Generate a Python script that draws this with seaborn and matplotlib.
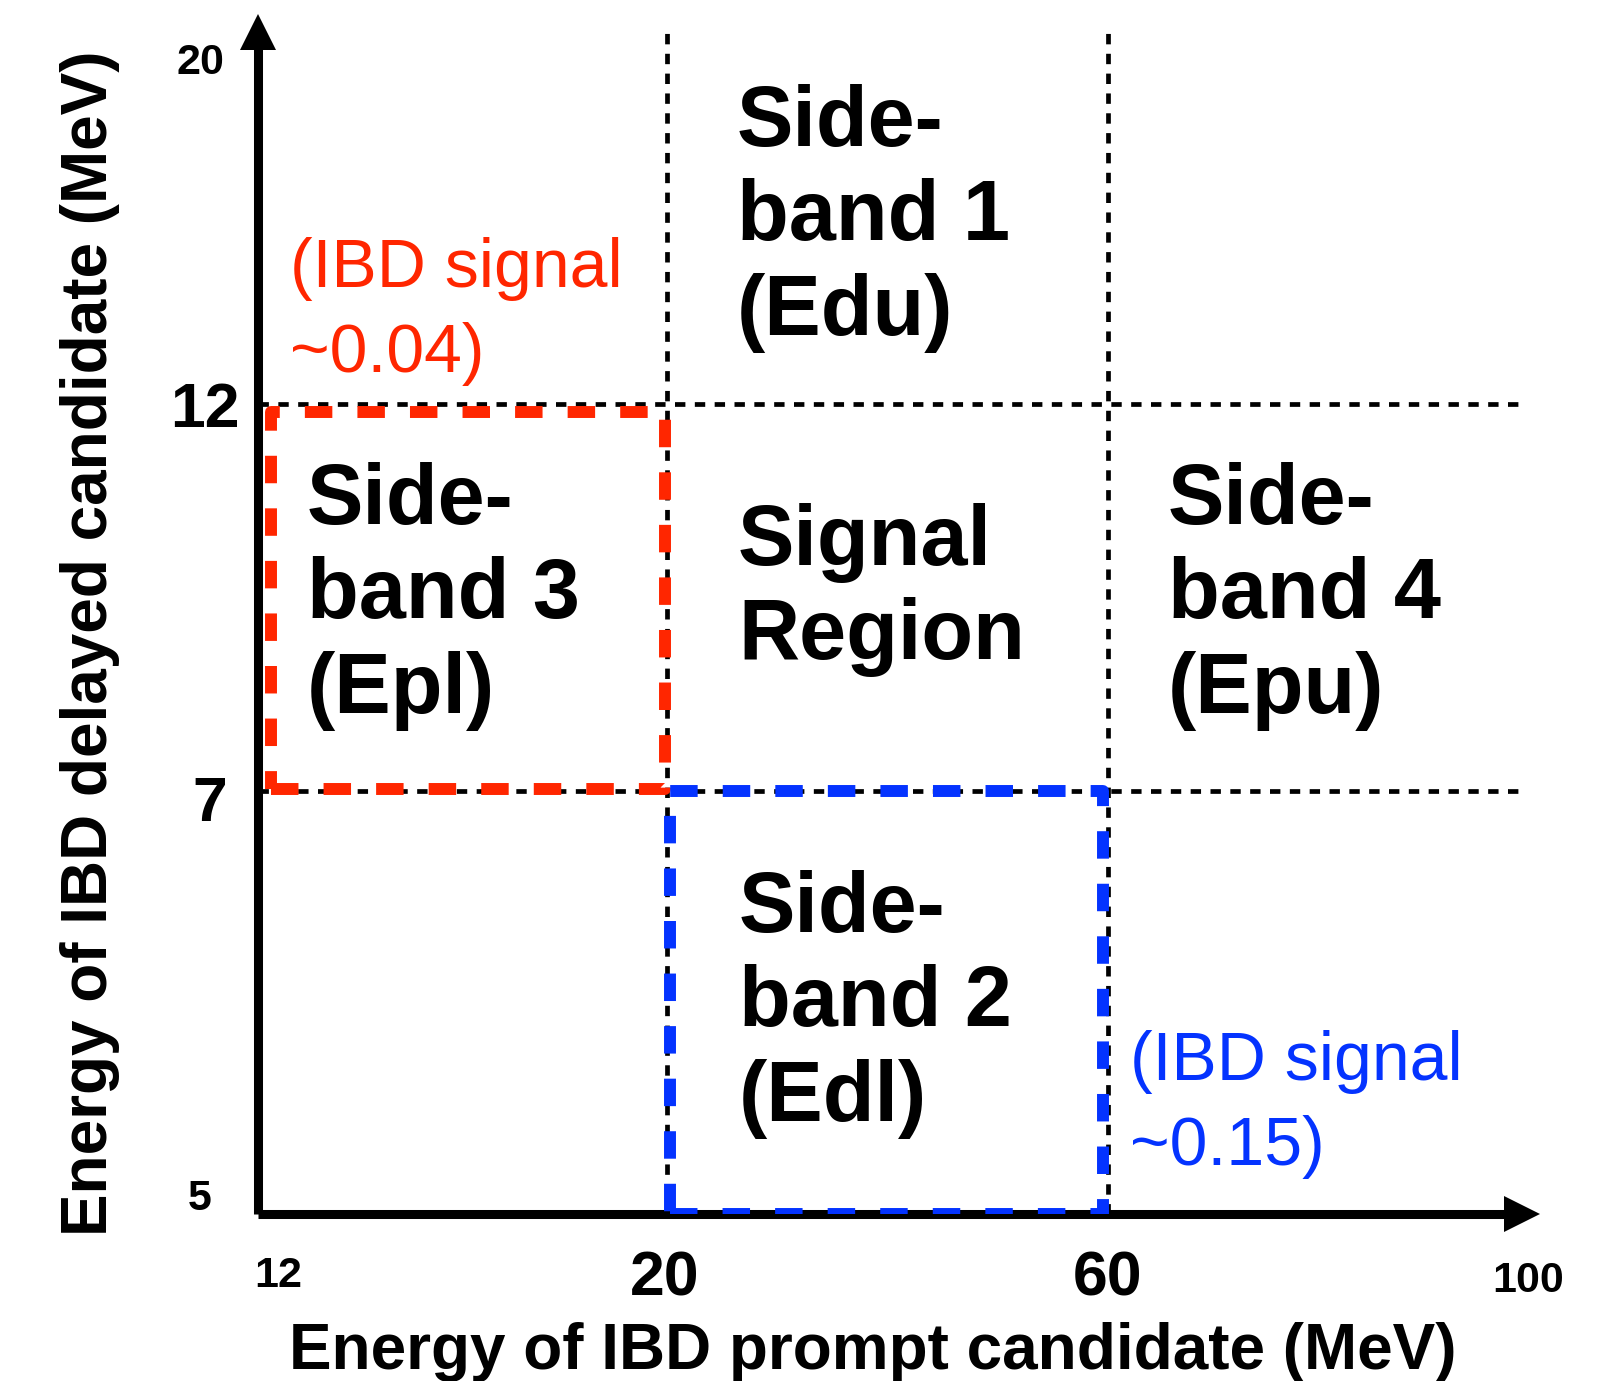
import numpy as np
import pandas as pd
import matplotlib
matplotlib.use('Agg')
import matplotlib.pyplot as plt
import matplotlib.transforms as mtransforms
import seaborn as sns

# axis ticks (MeV)
prompt_ticks = [12, 20, 60, 100]
delayed_ticks = [5, 7, 12, 20]

# cut values separating the regions
prompt_cuts = [20, 60]
delayed_cuts = [7, 12]
cut_top = 20.65      # vertical cut lines end a bit above 20
cut_right = 99.3     # horizontal cut lines end just before 100

# highlighted boxes as drawn
red_box_x = [12.26, 19.96]
red_box_y = [7.03, 11.9]
blue_box_x = [20.27, 59.55]
blue_box_y = [5.0, 7.0]

region_labels = ['Side-\nband 1\n(Edu)', 'Side-\nband 3\n(Epl)', 'Signal\nRegion',
                 'Side-\nband 4\n(Epu)', 'Side-\nband 2\n(Edl)']
red_note = '(IBD signal\n~0.04)'
blue_note = '(IBD signal\n~0.15)'

RED = '#FF2600'
BLUE = '#0433FF'
W, H = 1604, 1381

sns.set_theme(style='white')
plt.rcParams['font.family'] = ['Liberation Sans', 'DejaVu Sans']
plt.rcParams['text.color'] = 'black'


# schematic (non-linear) axis: each tick gets its own spot on the drawing
def piecewise(knots_in, knots_out):
    ki = np.asarray(knots_in, float)
    ko = np.asarray(knots_out, float)

    def f(v):
        v = np.asarray(v, float)
        out = np.interp(v, ki, ko)
        lo = ko[0] + (v - ki[0]) * (ko[1] - ko[0]) / (ki[1] - ki[0])
        hi = ko[-1] + (v - ki[-1]) * (ko[-1] - ko[-2]) / (ki[-1] - ki[-2])
        return np.where(v < ki[0], lo, np.where(v > ki[-1], hi, out))
    return f


x_pos = [0, 409.5, 850.5, 1270.5]
y_pos = [0, 423, 810, 1155]
fx, ix = piecewise(prompt_ticks, x_pos), piecewise(x_pos, prompt_ticks)
fy, iy = piecewise(delayed_ticks, y_pos), piecewise(y_pos, delayed_ticks)

fig = plt.figure(figsize=(W / 100, H / 100), dpi=100)
ax = fig.add_axes([257.5 / W, 167 / H, (1540 - 257.5) / W, (1214 - 13) / H])
ax.set_xscale('function', functions=(fx, ix))
ax.set_yscale('function', functions=(fy, iy))

# cut lines
for c in prompt_cuts:
    ax.plot([c, c], [delayed_ticks[0], cut_top], color='black', lw=3.4,
            linestyle=(0, (2.2, 2.0)), zorder=2)
for c in delayed_cuts:
    ax.plot([prompt_ticks[0], cut_right], [c, c], color='black', lw=3.4,
            linestyle=(0, (2.2, 2.0)), zorder=2)

# highlighted boxes
for bx, by, col in [(red_box_x, red_box_y, RED), (blue_box_x, blue_box_y, BLUE)]:
    box = pd.DataFrame({'x': [bx[0], bx[1], bx[1], bx[0], bx[0]],
                        'y': [by[0], by[0], by[1], by[1], by[0]]})
    sns.lineplot(data=box, x='x', y='y', sort=False, estimator=None, color=col,
                 lw=8.6, linestyle=(0, (2.3, 2.1)), ax=ax, zorder=4)

ax.set_xlim(prompt_ticks[0], float(ix(1282.5)))
ax.set_ylim(delayed_ticks[0], float(iy(1201)))
ax.set_axis_off()

# axis arrows
ax.plot([0, 1 - 30 / 1282.5], [0, 0], transform=ax.transAxes, color='black', lw=6.5,
        solid_capstyle='butt', clip_on=False, zorder=3)
ax.plot([0, 0], [0, 1 - 30 / 1201], transform=ax.transAxes, color='black', lw=6.5,
        solid_capstyle='butt', clip_on=False, zorder=3)
ax.plot(1, 0, marker='>', ms=26.6, mew=0, color='black', clip_on=False, zorder=3,
        transform=mtransforms.offset_copy(ax.transAxes, fig=fig, x=-18.5, y=0, units='dots'))
ax.plot(0, 1, marker='^', ms=26.6, mew=0, color='black', clip_on=False, zorder=3,
        transform=mtransforms.offset_copy(ax.transAxes, fig=fig, x=0, y=-18.5, units='dots'))

# tick labels (mixed sizes as in the sketch)
xt_size = [31, 45, 45, 31]
xt_dx = [20.5, -2, 0, 0]
xt_dy = [-57.5, -58, -58, -63]
bx_tr = mtransforms.blended_transform_factory(ax.transData, ax.transAxes)
for v, s, dx, dy in zip(prompt_ticks, xt_size, xt_dx, xt_dy):
    ax.text(v, 0, str(v), fontsize=s, fontweight='bold', ha='center', va='center_baseline',
            transform=mtransforms.offset_copy(bx_tr, fig=fig, x=dx, y=dy, units='dots'))

yt_size = [31, 45, 45, 31]
yt_dx = [-57.5, -47.5, -52.5, -57.5]
yt_dy = [20, -7, 0, 0]
by_tr = mtransforms.blended_transform_factory(ax.transAxes, ax.transData)
for v, s, dx, dy in zip(delayed_ticks, yt_size, yt_dx, yt_dy):
    ax.text(0, v, str(v), fontsize=s, fontweight='bold', ha='center', va='center_baseline',
            transform=mtransforms.offset_copy(by_tr, fig=fig, x=dx, y=dy, units='dots'))

# axis titles
fig.text(873 / W, 1 - 1345 / H, 'Energy of IBD prompt candidate (MeV)', fontsize=46,
         fontweight='bold', ha='center', va='center_baseline')
fig.text(84 / W, 1 - 643 / H, 'Energy of IBD delayed candidate (MeV)', fontsize=46,
         fontweight='bold', ha='center', va='center_baseline', rotation=90,
         rotation_mode='anchor')

# region names
label_xy = [(737, 84), (307, 462), (738, 503), (1168, 462), (739, 870)]
for (px, py), s in zip(label_xy, region_labels):
    fig.text(px / W, 1 - py / H, s, fontsize=61, fontweight='bold', ha='left', va='top',
             linespacing=1.23)

fig.text(290 / W, 1 - 237 / H, red_note, fontsize=49, color=RED, ha='left', va='top',
         linespacing=1.42)
fig.text(1130 / W, 1 - 1030 / H, blue_note, fontsize=49, color=BLUE, ha='left', va='top',
         linespacing=1.42)

fig.savefig('out.png', dpi=100)
